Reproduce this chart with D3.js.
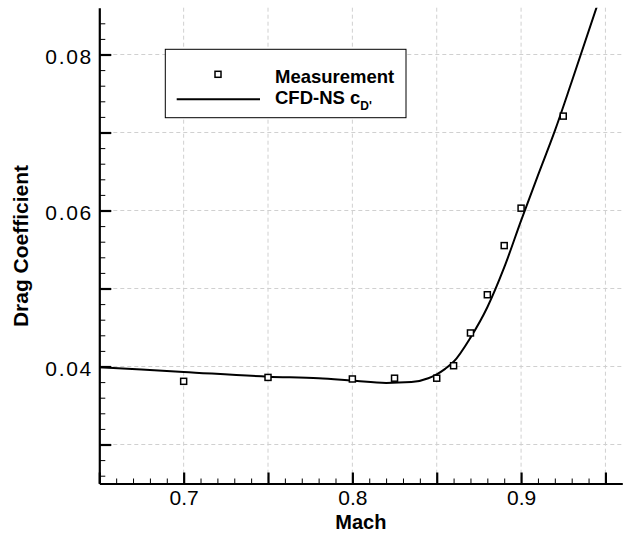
<!DOCTYPE html>
<html>
<head>
<meta charset="utf-8">
<script src="https://cdn.jsdelivr.net/npm/d3@7"></script>
<style>
  html, body { margin: 0; padding: 0; background: #fff; }
  svg { display: block; font-family: "Liberation Sans", Arial, Helvetica, sans-serif; }
</style>
</head>
<body>
<svg id="chart" width="627" height="535"></svg>
<script>
// ---- data ----
const measMach = [0.70, 0.75, 0.80, 0.825, 0.85, 0.86, 0.87, 0.88, 0.89, 0.90, 0.925];
const measCd   = [0.0381, 0.0386, 0.0384, 0.0385, 0.0385, 0.0401, 0.0443, 0.0492, 0.0555, 0.0603, 0.0721];

const cfdMach = [0.65, 0.70, 0.75, 0.78, 0.80, 0.82, 0.835, 0.845, 0.85, 0.855, 0.86, 0.87, 0.88, 0.89, 0.90, 0.91, 0.92, 0.93, 0.945];
const cfdCd   = [0.0399, 0.0393, 0.0387, 0.0385, 0.0382, 0.0379, 0.0380, 0.0385, 0.0390, 0.0397, 0.0406, 0.0437, 0.0476, 0.0527, 0.0587, 0.0645, 0.0702, 0.0765, 0.0862];

const xMajorTicks = [0.65, 0.70, 0.75, 0.80, 0.85, 0.90, 0.95];
const xLabels = ["", "0.7", "", "0.8", "", "0.9", ""];
const xMinorTicks = [0.66,0.67,0.68,0.69,0.71,0.72,0.73,0.74,0.76,0.77,0.78,0.79,0.81,0.82,0.83,0.84,0.86,0.87,0.88,0.89,0.91,0.92,0.93,0.94];
const yMajorTicks = [0.03, 0.04, 0.05, 0.06, 0.07, 0.08];
const yLabels = ["", "0.04", "", "0.06", "", "0.08"];
const yMinorTicks = [0.026,0.028,0.032,0.034,0.036,0.038,0.042,0.044,0.046,0.048,0.052,0.054,0.056,0.058,0.062,0.064,0.066,0.068,0.072,0.074,0.076,0.078,0.082,0.084];
const xGrid = [0.70, 0.75, 0.80, 0.85, 0.90, 0.95];
const yGrid = [0.03, 0.04, 0.05, 0.06, 0.07, 0.08];

const legendLabels = ["Measurement", "CFD-NS c"];

// ---- layout ----
const svg = d3.select("#chart");
const x = d3.scaleLinear().domain([0.65, 0.96]).range([99.3, 622.3]);
const y = d3.scaleLinear().domain([0.025, 0.086]).range([483.5, 7.7]);
const x0 = x.range()[0], x1 = x.range()[1];
const yb = y.range()[0], yt = y.range()[1];

// grid
const grid = svg.append("g").attr("stroke", "#d0d0d0").attr("stroke-width", 1).attr("stroke-dasharray", "4,3");
grid.selectAll("line.v").data(xGrid).join("line").attr("class", "v")
  .attr("x1", d => x(d)).attr("x2", d => x(d)).attr("y1", yt).attr("y2", yb);
grid.selectAll("line.h").data(yGrid).join("line").attr("class", "h")
  .attr("x1", x0).attr("x2", x1).attr("y1", d => y(d)).attr("y2", d => y(d));

// clip
svg.append("clipPath").attr("id", "clip").append("rect")
  .attr("x", x0).attr("y", yt).attr("width", x1 - x0).attr("height", yb - yt);

// CFD line
const line = d3.line().x((d, i) => x(cfdMach[i])).y((d, i) => y(cfdCd[i])).curve(d3.curveMonotoneX);
svg.append("path").datum(cfdCd).attr("clip-path", "url(#clip)")
  .attr("d", line).attr("fill", "none").attr("stroke", "#000").attr("stroke-width", 2);

// measurement markers
svg.append("g").selectAll("rect").data(measCd).join("rect")
  .attr("x", (d, i) => x(measMach[i]) - 3).attr("y", d => y(d) - 3)
  .attr("width", 6).attr("height", 6)
  .attr("fill", "#fff").attr("stroke", "#000").attr("stroke-width", 1.5);

// x axis
const gx = svg.append("g").attr("transform", `translate(0,${yb})`);
gx.append("g").call(d3.axisBottom(x).tickValues(xMinorTicks).tickSize(-5).tickSizeOuter(0).tickFormat(""))
  .call(g => g.select(".domain").remove())
  .call(g => g.selectAll(".tick line").attr("stroke-width", 1));
gx.append("g").call(d3.axisBottom(x).tickValues(xMajorTicks).tickSize(-11).tickSizeOuter(0).tickPadding(6.5)
    .tickFormat((d, i) => xLabels[i]))
  .call(g => g.select(".domain").attr("stroke-width", 2.2))
  .call(g => g.selectAll(".tick line").attr("stroke-width", 2.2))
  .call(g => g.selectAll(".tick text").attr("font-size", 21).attr("fill", "#000")
    .attr("font-family", "'Liberation Sans', Arial, sans-serif"));

// y axis
const gy = svg.append("g").attr("transform", `translate(${x0},0)`);
gy.append("g").call(d3.axisLeft(y).tickValues(yMinorTicks).tickSize(-6).tickSizeOuter(0).tickFormat(""))
  .call(g => g.select(".domain").remove())
  .call(g => g.selectAll(".tick line").attr("stroke-width", 1));
gy.append("g").call(d3.axisLeft(y).tickValues(yMajorTicks).tickSize(-12).tickSizeOuter(0).tickPadding(8)
    .tickFormat((d, i) => yLabels[i]))
  .call(g => g.select(".domain").attr("stroke-width", 2.2))
  .call(g => g.selectAll(".tick line").attr("stroke-width", 2.2))
  .call(g => g.selectAll(".tick text").attr("font-size", 21).attr("fill", "#000").attr("dy", "0.42em")
    .attr("font-family", "'Liberation Sans', Arial, sans-serif")
    .filter(function() { return this.textContent !== ""; })
    .attr("textLength", 46).attr("lengthAdjust", "spacing"));

// axis titles
svg.append("text").attr("x", (x0 + x1) / 2).attr("y", 528.5)
  .attr("text-anchor", "middle").attr("font-size", 20).attr("font-weight", "bold").text("Mach");
svg.append("text").attr("transform", "translate(28,246) rotate(-90)")
  .attr("text-anchor", "middle").attr("font-size", 21).attr("font-weight", "bold").text("Drag Coefficient");

// legend
const lg = svg.append("g");
lg.append("rect").attr("x", 165.3).attr("y", 49.3).attr("width", 240.7).attr("height", 68.4)
  .attr("fill", "#fff").attr("stroke", "#000").attr("stroke-width", 1);
lg.append("rect").attr("x", 215).attr("y", 71.3).attr("width", 6).attr("height", 6)
  .attr("fill", "#fff").attr("stroke", "#000").attr("stroke-width", 1.5);
lg.append("line").attr("x1", 176.7).attr("x2", 260).attr("y1", 99.3).attr("y2", 99.3)
  .attr("stroke", "#000").attr("stroke-width", 2);
lg.append("text").attr("x", 275).attr("y", 82.7).attr("font-size", 18.5).attr("font-weight", "bold").text(legendLabels[0]);
const t2 = lg.append("text").attr("x", 275).attr("y", 104).attr("font-size", 18.5).attr("font-weight", "bold");
t2.append("tspan").text(legendLabels[1]);
t2.append("tspan").attr("dy", 6).attr("font-size", 12).text("D'");
</script>
</body>
</html>
